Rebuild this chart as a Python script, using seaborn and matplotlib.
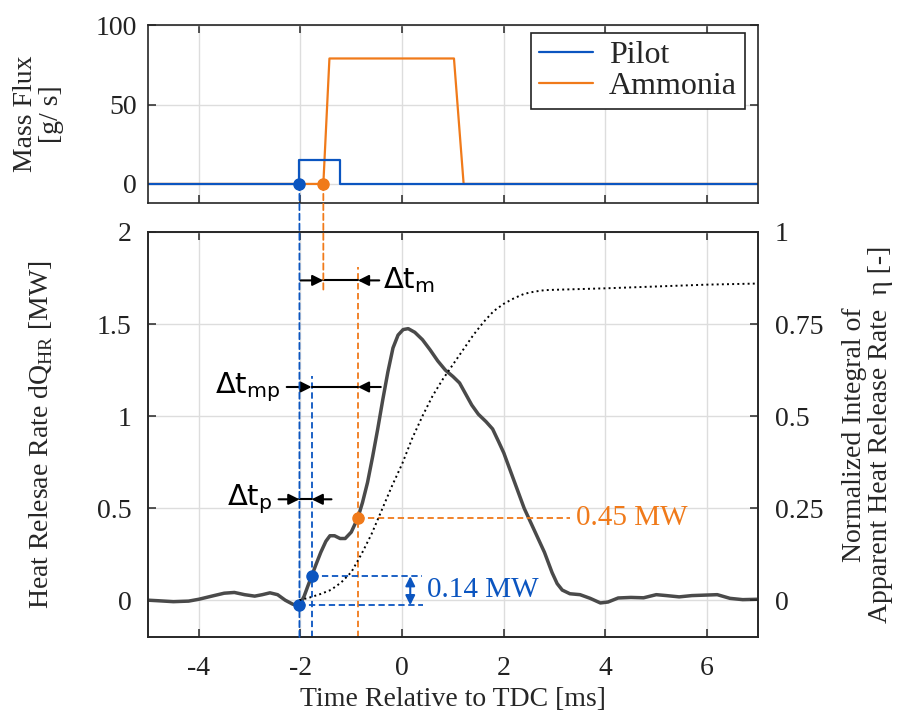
import numpy as np
import pandas as pd
import seaborn as sns
import matplotlib.pyplot as plt
from matplotlib.patches import ConnectionPatch

# ---- data ----
pilot_t = [-5.0, -2.02, -2.02, -1.23, -1.23, 7.0]
pilot_q = [0, 0, 15, 15, 0, 0]
amm_t = [-5.0, -1.55, -1.43, 1.02, 1.21, 7.0]
amm_q = [0, 0, 79, 79, 0, 0]

hrr_t = [-5.0, -4.8, -4.5, -4.2, -4.0, -3.7, -3.5, -3.3, -3.1, -2.9, -2.75, -2.6, -2.45, -2.3,
         -2.15, -2.02, -1.93, -1.85, -1.78, -1.7, -1.6, -1.5, -1.42, -1.33, -1.22, -1.12, -1.0,
         -0.87, -0.78, -0.68, -0.58, -0.48, -0.38, -0.28, -0.18, -0.08, 0.02, 0.12, 0.25, 0.4,
         0.55, 0.7, 0.85, 1.0, 1.13, 1.25, 1.37, 1.5, 1.65, 1.78, 1.9, 2.0, 2.2, 2.4, 2.6, 2.8,
         2.95, 3.05, 3.15, 3.3, 3.5, 3.7, 3.9, 4.05, 4.25, 4.5, 4.75, 5.0, 5.2, 5.45, 5.7, 6.0,
         6.2, 6.45, 6.7, 7.0]
hrr_q = [0.0, -0.003, -0.008, -0.005, 0.005, 0.025, 0.038, 0.042, 0.03, 0.022, 0.03, 0.04, 0.03, 0.0,
         -0.022, -0.027, 0.02, 0.08, 0.13, 0.19, 0.26, 0.32, 0.35, 0.35, 0.335, 0.335, 0.37,
         0.448, 0.53, 0.64, 0.78, 0.93, 1.09, 1.24, 1.37, 1.44, 1.47, 1.475, 1.455, 1.415,
         1.36, 1.3, 1.25, 1.215, 1.18, 1.12, 1.06, 1.01, 0.97, 0.93, 0.86, 0.80, 0.65, 0.50, 0.38, 0.26,
         0.15, 0.09, 0.055, 0.035, 0.03, 0.01, -0.015, -0.01, 0.012, 0.015, 0.013, 0.03, 0.025, 0.018, 0.025, 0.028,
         0.03, 0.01, 0.003, 0.005]

eta_t = [-2.02, -1.8, -1.6, -1.4, -1.2, -1.0, -0.8, -0.6, -0.4, -0.2, 0.0, 0.2, 0.4, 0.6, 0.8,
         1.0, 1.2, 1.4, 1.6, 1.8, 2.0, 2.2, 2.4, 2.6, 2.8, 3.0, 3.5, 4.0, 5.0, 6.0, 7.0]
eta_v = [0.0, 0.008, 0.017, 0.028, 0.048, 0.076, 0.125, 0.18, 0.245, 0.31, 0.37, 0.44, 0.5, 0.555, 0.6,
         0.64, 0.68, 0.72, 0.755, 0.785, 0.805, 0.82, 0.832, 0.838, 0.842, 0.843, 0.845, 0.847, 0.852, 0.857, 0.86]

# event markers
t_pilot = -2.02      # pilot injection start
t_amm = -1.55        # ammonia injection start
t_pilot_ign = -1.78  # pilot ignition
t_amm_ign = -0.87    # ammonia ignition
q_pilot0 = -0.027
q_pilot_ign = 0.13
q_amm_ign = 0.448

blue = '#0b55c0'
orange = '#f07a1a'

sns.set_theme(style='whitegrid')
plt.rcParams['font.family'] = ['Liberation Serif', 'DejaVu Serif']
plt.rcParams['mathtext.fontset'] = 'dejavusans'
plt.rcParams['axes.unicode_minus'] = False
plt.rcParams['grid.color'] = '#dddddd'
plt.rcParams['grid.linewidth'] = 1.0

fs = 20

fig = plt.figure(figsize=(9.1, 7.18), dpi=100)
ax1 = fig.add_axes([0.1626, 0.7173, 0.6703, 0.2477])
ax2 = fig.add_axes([0.1626, 0.1128, 0.6703, 0.5641])
ax2r = ax2.twinx()

# ---- top panel ----
sns.lineplot(x=amm_t, y=amm_q, ax=ax1, color=orange, lw=1.6, sort=False, estimator=None, label='Ammonia')
sns.lineplot(x=pilot_t, y=pilot_q, ax=ax1, color=blue, lw=1.6, sort=False, estimator=None, label='Pilot')
ax1.plot([t_pilot], [0], 'o', color=blue, ms=8, zorder=5)
ax1.plot([t_amm], [0], 'o', color=orange, ms=8, zorder=5)
ax1.set_xlim(-5, 7)
ax1.set_ylim(-12, 100)
ax1.set_xticks(range(-4, 7, 2))
ax1.set_xticklabels([])
ax1.set_yticks([0, 50, 100])
ax1.set_ylabel('Mass Flux\n[g/ s]', fontsize=fs, linespacing=1.05, va='center')
ax1.yaxis.set_label_coords(-0.18, 0.5)
h, l = ax1.get_legend_handles_labels()
ax1.legend(h[::-1], l[::-1], loc='upper right', bbox_to_anchor=(0.979, 0.955), borderaxespad=0,
           fancybox=False, edgecolor='#222222', framealpha=1, fontsize=23, handlelength=1.7,
           handletextpad=0.5, borderpad=0.25, labelspacing=0.05)
ax1.get_legend().get_frame().set_linewidth(1.2)

# ---- bottom panel ----
sns.lineplot(x=hrr_t, y=hrr_q, ax=ax2, color='#4a4a4a', lw=2.5, sort=False, estimator=None)
sns.lineplot(x=eta_t, y=eta_v, ax=ax2r, color='black', lw=1.4, ls=':', sort=False, estimator=None)
ax2.set_xlim(-5, 7)
ax2.set_ylim(-0.2, 2)
ax2r.set_ylim(-0.1, 1)
ax2.set_xticks(range(-4, 7, 2))
ax2.set_yticks([0, 0.5, 1, 1.5, 2])
ax2.set_yticklabels(['0', '0.5', '1', '1.5', '2'])
ax2r.set_yticks([0, 0.25, 0.5, 0.75, 1])
ax2r.set_yticklabels(['0', '0.25', '0.5', '0.75', '1'])
ax2r.grid(False)
ax2.set_xlabel('Time Relative to TDC [ms]', fontsize=fs, va='center')
ax2.xaxis.set_label_coords(0.5, -0.155)
ax2.set_ylabel(r'Heat Relesae Rate dQ$_{\mathregular{HR}}$ [MW]', fontsize=fs, va='center')
ax2.yaxis.set_label_coords(-0.175, 0.5)
ax2r.set_ylabel('Normalized Integral of\nApparent Heat Release Rate  η [-]', fontsize=fs,
                linespacing=1.05, va='center')
ax2r.yaxis.set_label_coords(1.18, 0.5)

dash = dict(ls=(0, (3.5, 2)), lw=1.3)
# vertical guide lines
ax2.plot([t_amm_ign, t_amm_ign], [-0.2, 1.81], color=orange, **dash)
ax2.plot([t_pilot_ign, t_pilot_ign], [-0.2, 1.22], color=blue, **dash)
# horizontal guide lines
ax2.plot([t_pilot_ign, 0.4], [q_pilot_ign, q_pilot_ign], color=blue, **dash)
ax2.plot([t_pilot, 0.42], [q_pilot0, q_pilot0], color=blue, **dash)
ax2.plot([t_amm_ign, 3.3], [q_amm_ign, q_amm_ign], color=orange, **dash)

# lines that run across both panels
for x0, y1, c in [(t_pilot, -0.2, blue), (t_amm, 1.67, orange)]:
    con = ConnectionPatch(xyA=(x0, 0), coordsA=ax1.transData, xyB=(x0, y1), coordsB=ax2.transData,
                          color=c, linestyle=(0, (3.5, 2)), lw=1.3, zorder=1)
    fig.add_artist(con)

ax2.plot([t_pilot], [q_pilot0], 'o', color=blue, ms=8, zorder=5)
ax2.plot([t_pilot_ign], [q_pilot_ign], 'o', color=blue, ms=8, zorder=5)
ax2.plot([t_amm_ign], [q_amm_ign], 'o', color=orange, ms=8, zorder=5)

# delta-t arrows
arr = dict(arrowstyle='-|>', color='black', lw=1.5, mutation_scale=16, shrinkA=0, shrinkB=0)
def gap_arrows(y, left_tail, left_head, right_head, right_tail):
    ax2.annotate('', xy=(left_head, y), xytext=(left_tail, y), arrowprops=arr)
    ax2.annotate('', xy=(right_head, y), xytext=(right_tail, y), arrowprops=arr)
    if right_head > left_head:
        ax2.plot([left_head, right_head], [y, y], color='black', lw=1.5)

gap_arrows(1.737, -2.0, t_amm, t_amm_ign, -0.45)
gap_arrows(1.158, -2.27, t_pilot_ign, t_amm_ign, -0.42)
gap_arrows(0.548, -2.43, t_pilot, t_pilot_ign, -1.39)
sans = dict(family='DejaVu Sans', fontsize=21, color='black')
ax2.text(-0.38, 1.737, r'$\Delta\mathrm{t}_{\mathrm{m}}$', ha='left', va='center', **sans)
ax2.text(-2.4, 1.158, r'$\Delta\mathrm{t}_{\mathrm{mp}}$', ha='right', va='center', **sans)
ax2.text(-2.55, 0.548, r'$\Delta\mathrm{t}_{\mathrm{p}}$', ha='right', va='center', **sans)

# amplitude markers
ax2.annotate('', xy=(0.16, q_pilot0), xytext=(0.16, q_pilot_ign),
             arrowprops=dict(arrowstyle='<|-|>', color=blue, lw=1.5, mutation_scale=14, shrinkA=0, shrinkB=0))
ax2.text(0.48, 0.055, '0.14 MW', color=blue, fontsize=21, ha='left', va='center')
ax2.text(3.42, q_amm_ign, '0.45 MW', color=orange, fontsize=21, ha='left', va='center')

for ax in (ax1, ax2, ax2r):
    for s in ax.spines.values():
        s.set_color('#262626')
        s.set_linewidth(1.2)
    ax.tick_params(direction='in', length=6, width=1.1, color='#262626', labelsize=fs,
                   labelcolor='#222222', top=True, bottom=True)
ax1.tick_params(right=True, left=True)
ax1.tick_params(axis='y', pad=8)
ax2.tick_params(left=True, right=False)
ax2.tick_params(axis='y', pad=12)
ax2.tick_params(axis='x', pad=14)
ax2r.tick_params(right=True, left=False, top=False, pad=12)
ax1.grid(True)
ax2.grid(True)
ax1.set_axisbelow(True)
ax2.set_axisbelow(True)

fig.savefig('out.png', dpi=100)
